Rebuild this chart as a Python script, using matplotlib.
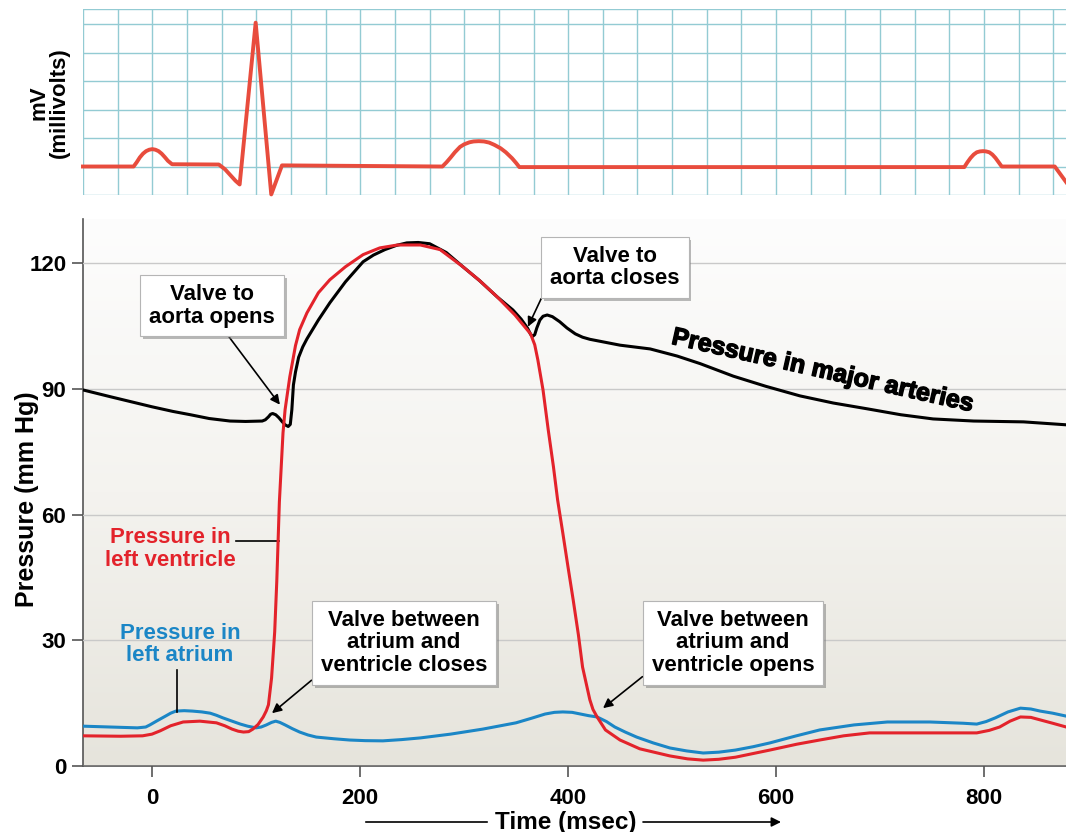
import numpy as np
import matplotlib.pyplot as plt
import matplotlib.patheffects as pe
from matplotlib.colors import LinearSegmentedColormap

plt.rcParams['font.family'] = ['Liberation Sans', 'DejaVu Sans']
plt.rcParams['font.weight'] = 'bold'

# ECG trace (ms, grid units)
ecg_t = [-66.7, -18, -15, -12, -9, -6, -3, 0, 3, 6, 9, 12, 15, 19, 64, 70, 75, 80, 84,
         99.4, 114.4, 124.7, 279, 283, 287, 291, 296, 300, 305, 309, 314, 319, 324, 329,
         335, 340, 346, 350, 353, 781, 784, 787, 790, 793, 796, 799, 802, 805, 808, 811,
         814, 817, 868, 879]
ecg_v = [1.0, 1.0, 1.15, 1.32, 1.45, 1.54, 1.59, 1.61, 1.59, 1.54, 1.45, 1.33, 1.2, 1.08,
         1.07, 0.9, 0.7, 0.5, 0.37, 6.05, 0.02, 1.04, 1.0, 1.15, 1.32, 1.5, 1.69, 1.78,
         1.85, 1.88, 1.89, 1.88, 1.84, 1.76, 1.64, 1.5, 1.29, 1.12, 0.98, 0.98, 1.15, 1.3,
         1.42, 1.5, 1.53, 1.54, 1.53, 1.5, 1.42, 1.3, 1.15, 1.0, 1.0, 0.45]

# pressure in major arteries (aorta)
aorta_t = [-66, -40, 0, 20, 37, 55, 75, 90, 106, 109, 112, 114, 116, 119, 122, 125, 128,
           131, 133, 134.5, 136, 138, 141, 145, 149, 160, 171, 186, 203, 213, 224, 235,
           245, 256, 267, 283, 299, 315, 332, 347, 355, 361, 364, 366, 368, 370, 373, 376,
           380, 385, 392, 399, 407, 414, 421, 450, 479, 505, 527, 559, 590, 623, 655, 688,
           720, 751, 790, 838, 879]
aorta_p = [89.7, 88.1, 85.7, 84.6, 83.8, 82.9, 82.3, 82.2, 82.3, 82.6, 83.3, 83.9, 84.1,
           83.8, 83.1, 82.2, 81.4, 81.0, 81.5, 85.0, 90.9, 94.0, 97.5, 100.0, 101.9, 106.4,
           110.5, 115.5, 120.3, 121.9, 123.2, 124.2, 124.8, 124.9, 124.6, 122.5, 119.1,
           115.8, 111.9, 108.8, 106.6, 104.5, 103.0, 102.5, 102.9, 104.5, 106.4, 107.3,
           107.6, 107.2, 106.0, 104.5, 103.1, 102.3, 101.8, 100.4, 99.5, 97.8, 96.0, 93.0,
           90.6, 88.3, 86.6, 85.2, 83.8, 82.8, 82.3, 82.1, 81.4]

# pressure in left ventricle
lv_t = [-66, -30, -9, 0, 8, 18, 30, 46, 62, 70, 77, 83, 88, 93, 97, 102, 107, 110, 112,
        115, 118, 120, 122.5, 126, 128, 130, 132.5, 135, 138, 142, 149, 160, 171, 186,
        203, 219, 236, 258, 277, 299, 315, 332, 349, 364, 368, 371, 376, 381, 386, 390,
        395, 400, 405, 410, 414, 421, 424, 428, 436, 450, 469, 498, 515, 530, 545, 561,
        594, 620, 642, 665, 690, 748, 793, 805, 815, 825, 835, 845, 854, 866, 879]
lv_p = [7.2, 7.1, 7.2, 7.6, 8.4, 9.6, 10.5, 10.7, 10.3, 9.6, 8.8, 8.3, 8.1, 8.2, 8.8, 9.9,
        11.7, 13.2, 14.6, 21, 32, 44, 63, 79.5, 85, 88.5, 92.8, 96.2, 100.3, 104.1, 108.1,
        112.9, 116, 119.1, 122, 123.6, 124.3, 124.3, 123.2, 119.1, 115.8, 111.9, 107.6,
        103.1, 100.5, 96.9, 89.7, 80.2, 71.4, 63.5, 55.6, 47.5, 39.6, 31.3, 23.6, 15.8,
        13.5, 11.7, 8.6, 6.2, 4.1, 2.4, 1.7, 1.4, 1.6, 2.1, 3.8, 5.2, 6.2, 7.2, 7.9, 7.9,
        7.9, 8.5, 9.3, 10.7, 11.7, 11.6, 11.0, 10.2, 9.3]

# pressure in left atrium
la_t = [-66, -40, -14, -6, -2, 5, 13, 18, 23, 31, 39, 48, 56, 62, 68, 77, 85, 92, 100,
        105, 110, 115, 119, 123, 128, 135, 142, 150, 158, 175, 190, 205, 222, 240, 258,
        287, 318, 350, 365, 378, 387, 395, 404, 412, 420, 428, 437, 445, 455, 466, 482,
        498, 514, 530, 545, 561, 578, 594, 618, 642, 675, 707, 748, 780, 793, 802, 811,
        823, 835, 845, 854, 866, 879]
la_p = [9.5, 9.3, 9.1, 9.3, 9.8, 10.8, 11.9, 12.6, 13.1, 13.2, 13.1, 12.9, 12.6, 12.1,
        11.5, 10.7, 10.0, 9.5, 9.1, 9.3, 9.8, 10.4, 10.7, 10.4, 9.8, 8.9, 8.1, 7.4, 6.9,
        6.5, 6.2, 6.05, 6.0, 6.3, 6.7, 7.6, 8.8, 10.3, 11.4, 12.4, 12.8, 12.9, 12.8, 12.4,
        12.0, 11.7, 10.6, 9.3, 8.1, 6.9, 5.5, 4.3, 3.6, 3.1, 3.3, 3.8, 4.6, 5.5, 7.1, 8.6,
        9.8, 10.5, 10.5, 10.2, 10.0, 10.6, 11.5, 12.9, 13.8, 13.6, 13.1, 12.6, 11.9]

xticks = [0, 200, 400, 600, 800]
yticks = [0, 30, 60, 90, 120]

RED = '#e3232b'
BLUE = '#1b86c6'
XMIN, XMAX = -66.3, 878.8
YMAX = 130.5

fig = plt.figure(figsize=(10.66, 8.32), dpi=100)
ax_ecg = fig.add_axes([83/1066, 1-195/832, 1-83/1066, 186/832])
ax = fig.add_axes([83/1066, 66/832, 1-83/1066, 547/832])

# --- ECG panel ---
ax_ecg.set_xlim(XMIN, XMAX)
ax_ecg.set_ylim(0, 6.53)
ax_ecg.set_xticks(np.arange(-66.67, 880, 33.333))
ax_ecg.set_yticks([0, 1, 2, 3, 4, 5, 6, 6.53])
ax_ecg.grid(True, color='#93cbd3', lw=1)
ax_ecg.tick_params(length=0, labelbottom=False, labelleft=False)
for s in ax_ecg.spines.values():
    s.set_visible(False)
ax_ecg.plot(ecg_t, ecg_v, color='#e84c3d', lw=2.8, clip_on=False,
            solid_joinstyle='round', zorder=3)
fig.text(49/1066, 1-103/832, 'mV\n(millivolts)', rotation=90, ha='center',
         va='center', fontsize=16, linespacing=0.95)

# --- pressure panel ---
grad = np.linspace(0, 1, 256).reshape(-1, 1)
cmap = LinearSegmentedColormap.from_list('bg', ['#e6e4dc', '#f4f3ef', '#fdfdfd'])
ax.imshow(grad, extent=[XMIN, XMAX, 0, YMAX], aspect='auto', cmap=cmap,
          origin='lower', zorder=0)
ax.set_xlim(XMIN, XMAX)
ax.set_ylim(0, YMAX)
ax.set_xticks(xticks)
ax.set_yticks(yticks)
ax.yaxis.grid(True, color='#c9c9c9', lw=1)
ax.set_axisbelow(False)
for s in ['top', 'right']:
    ax.spines[s].set_visible(False)
for s in ['left', 'bottom']:
    ax.spines[s].set_color('#555555')
    ax.spines[s].set_linewidth(1.2)
ax.tick_params(axis='both', direction='out', length=8, width=1.2, color='#555555',
               labelsize=16)
ax.tick_params(axis='y', pad=4)
ax.tick_params(axis='x', pad=8)

ax.plot(aorta_t, aorta_p, color='black', lw=2.2, zorder=3, solid_joinstyle='round')
ax.plot(la_t, la_p, color=BLUE, lw=2.2, zorder=3, solid_joinstyle='round')
ax.plot(lv_t, lv_p, color=RED, lw=2.2, zorder=4, solid_joinstyle='round')


def box(text, tip, center, relpos):
    t = ax.annotate(text, xy=tip, xytext=center, ha='center', va='center',
                    fontsize=16, linespacing=1.1, zorder=6,
                    bbox=dict(boxstyle='square,pad=0.4', fc='white', ec='#b5b5b5', lw=0.8),
                    arrowprops=dict(arrowstyle='-|>', color='black', lw=1.2,
                                    mutation_scale=14, relpos=relpos,
                                    shrinkA=0, shrinkB=0))
    t.get_bbox_patch().set_path_effects(
        [pe.withSimplePatchShadow(offset=(2, -2), shadow_rgbFace='#777777', alpha=0.5)])


box('Valve to\naorta opens', (123, 86.2), (57.7, 109.8), (0.58, 0.0))
box('Valve to\naorta closes', (361.5, 104.8), (445.2, 118.9), (0.0, 0.23))
box('Valve between\natrium and\nventricle closes', (115.4, 12.6), (242.3, 29.4), (0.0, 0.05))
box('Valve between\natrium and\nventricle opens', (433.7, 13.8), (558.7, 29.4), (0.0, 0.1))

ax.text(645, 94.3, 'Pressure in major arteries', rotation=-12.7, rotation_mode='anchor',
        ha='center', va='center', fontsize=18, zorder=5,
        path_effects=[pe.withStroke(linewidth=1.0, foreground='black')])

ax.text(17.3, 51.8, 'Pressure in\nleft ventricle', color=RED, ha='center', va='center',
        fontsize=16, linespacing=1.1, zorder=5)
ax.plot([80.8, 122], [53.7, 53.7], color='black', lw=1.2, zorder=3)

ax.text(26.9, 28.9, 'Pressure in\nleft atrium', color=BLUE, ha='center', va='center',
        fontsize=16, linespacing=1.05, zorder=5)
ax.plot([24, 24], [22.9, 12.9], color='black', lw=1.2, zorder=3)

fig.text(27/1066, 1-499/832, 'Pressure (mm Hg)', rotation=90, ha='center',
         va='center', fontsize=18)
fig.text(566/1066, 1-822/832, 'Time (msec)', ha='center', va='center', fontsize=17.5)
ax.annotate('', xy=(490/1066, 1-822/832), xytext=(363/1066, 1-822/832),
            xycoords='figure fraction', arrowprops=dict(arrowstyle='-', lw=1.2, color='black'))
ax.annotate('', xy=(781/1066, 1-822/832), xytext=(643/1066, 1-822/832),
            xycoords='figure fraction',
            arrowprops=dict(arrowstyle='-|>', lw=1.2, color='black', mutation_scale=14,
                            shrinkA=0, shrinkB=0))

fig.savefig('out.png', dpi=100)
